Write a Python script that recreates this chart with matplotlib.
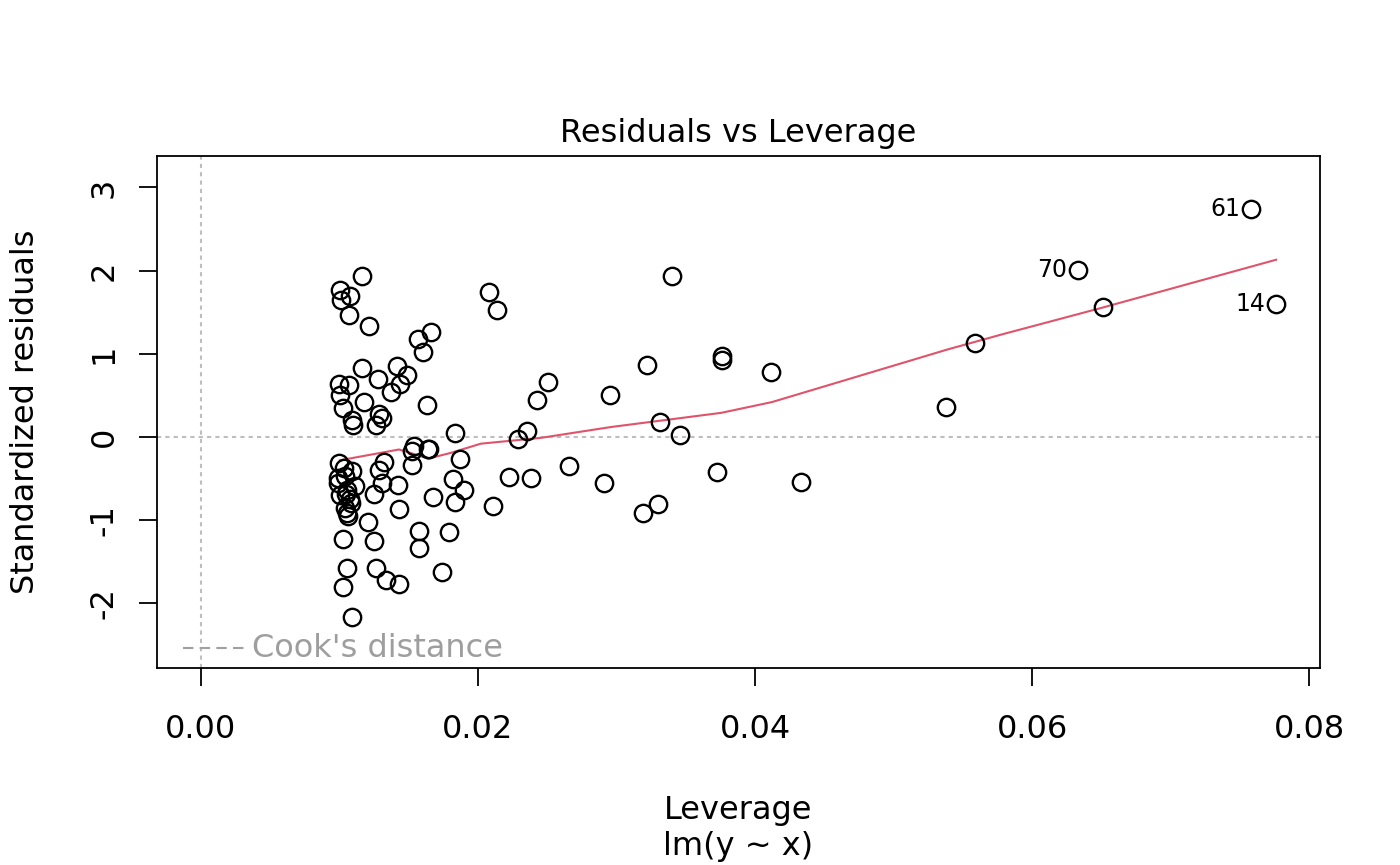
import matplotlib
matplotlib.use("Agg")
import matplotlib.pyplot as plt
import numpy as np

# leverage and standardized residuals
leverage = [
    0.01162, 0.01003, 0.01011, 0.01076, 0.01069, 0.01213, 0.02079, 0.02137, 0.03401,
    0.01567, 0.01661, 0.01603, 0.01162, 0.01415, 0.01487, 0.01437, 0.01278, 0.00996,
    0.01069, 0.01004, 0.01177, 0.01372, 0.01025, 0.01090, 0.01098, 0.01285, 0.01307,
    0.01264, 0.01632, 0.02505, 0.02426, 0.03220, 0.03762, 0.03762, 0.04116, 0.02953,
    0.01834, 0.02354, 0.02289, 0.03314, 0.03458, 0.01538, 0.01524, 0.01639, 0.01646,
    0.01321, 0.01285, 0.01524, 0.01870, 0.02657, 0.02224, 0.02383, 0.01820, 0.01899,
    0.01675, 0.01834, 0.02108, 0.01422, 0.01307, 0.01249, 0.01430, 0.01206, 0.01574,
    0.01791, 0.01574, 0.01249, 0.01025, 0.01054, 0.01264, 0.01740, 0.01339, 0.01430,
    0.01025, 0.01090, 0.02910, 0.03191, 0.03300, 0.03726, 0.04332, 0.05379, 0.05588,
    0.06513, 0.06332, 0.07581, 0.07762,
    0.00996, 0.01032, 0.01090, 0.00989, 0.00989, 0.01040, 0.01054, 0.01112, 0.01004,
    0.01076, 0.01083, 0.01040, 0.01054, 0.01061, 0.01047,
]
std_resid = [
    1.94, 1.77, 1.65, 1.69, 1.47, 1.33, 1.74, 1.53, 1.94,
    1.18, 1.26, 1.02, 0.83, 0.85, 0.74, 0.64, 0.70, 0.64,
    0.62, 0.50, 0.42, 0.54, 0.35, 0.21, 0.14, 0.28, 0.23,
    0.14, 0.39, 0.66, 0.45, 0.86, 0.97, 0.93, 0.78, 0.50,
    0.05, 0.07, -0.02, 0.18, 0.03, -0.11, -0.17, -0.14, -0.14,
    -0.30, -0.40, -0.34, -0.26, -0.35, -0.48, -0.49, -0.50, -0.64,
    -0.72, -0.78, -0.83, -0.58, -0.55, -0.68, -0.87, -1.02, -1.13,
    -1.14, -1.33, -1.25, -1.23, -1.57, -1.57, -1.62, -1.72, -1.77,
    -1.80, -2.16, -0.55, -0.91, -0.81, -0.42, -0.54, 0.36, 1.13,
    1.56, 2.01, 2.74, 1.60,
    -0.31, -0.37, -0.41, -0.49, -0.55, -0.47, -0.64, -0.59, -0.70,
    -0.74, -0.79, -0.85, -0.91, -0.95, -0.68,
]

# smoother through the points
smooth_x = [0.01003, 0.01430, 0.01530, 0.01640, 0.01805, 0.02021, 0.02455, 0.02960,
            0.03755, 0.04123, 0.04765, 0.05386, 0.05776, 0.06498, 0.07762]
smooth_y = [-0.28, -0.15, -0.20, -0.26, -0.19, -0.08, -0.01, 0.12,
            0.29, 0.42, 0.74, 1.05, 1.23, 1.55, 2.13]

label_ids = ["61", "70", "14"]
label_x = [0.07581, 0.06332, 0.07762]
label_y = [2.74, 2.01, 1.60]

fig = plt.figure(figsize=(14, 8.65), dpi=100)
ax = fig.add_axes([0.1121, 0.2277, 0.8308, 0.5920])

ax.axhline(0, color="#BEBEBE", linestyle=(0, (2, 2)), linewidth=1.5, zorder=1)
ax.axvline(0, color="#BEBEBE", linestyle=(0, (2, 2)), linewidth=1.5, zorder=1)

ax.plot(leverage, std_resid, linestyle="none", marker="o", markersize=12.5,
        markerfacecolor="none", markeredgecolor="black", markeredgewidth=1.7, zorder=3)
ax.plot(smooth_x, smooth_y, color="#DF536B", linewidth=1.5, zorder=2)

for lab, lx, ly in zip(label_ids, label_x, label_y):
    ax.annotate(lab, (lx, ly), xytext=(-8, 0), textcoords="offset points",
                ha="right", va="center", fontsize=17)

# Cook's distance legend
ax.plot([-0.00130, 0.00317], [-2.54, -2.54], color="#A0A0A0",
        linestyle=(0, (5, 3)), linewidth=1.5, clip_on=False)
ax.text(0.00368, -2.54, "Cook's distance", color="#9E9E9E", fontsize=23,
        ha="left", va="center")

ax.set_xlim(-0.003177, 0.080794)
ax.set_ylim(-2.776, 3.377)
ax.set_xticks([0.00, 0.02, 0.04, 0.06, 0.08])
ax.set_xticklabels(["0.00", "0.02", "0.04", "0.06", "0.08"])
ax.set_yticks([-2, -1, 0, 1, 2, 3])
ax.set_yticklabels(["-2", "-1", "0", "1", "2", "3"], rotation=90, va="center")
ax.tick_params(direction="out", length=13, width=1.3, labelsize=23)
ax.tick_params(axis="x", pad=20)
ax.tick_params(axis="y", pad=14)
for s in ax.spines.values():
    s.set_linewidth(1.3)

ax.set_title("Residuals vs Leverage", fontsize=23, pad=10)
ax.set_xlabel("Leverage\nlm(y ~ x)", fontsize=23, labelpad=36, linespacing=1.2)
ax.set_ylabel("Standardized residuals", fontsize=23, labelpad=34)

fig.savefig("out.png", dpi=100)
